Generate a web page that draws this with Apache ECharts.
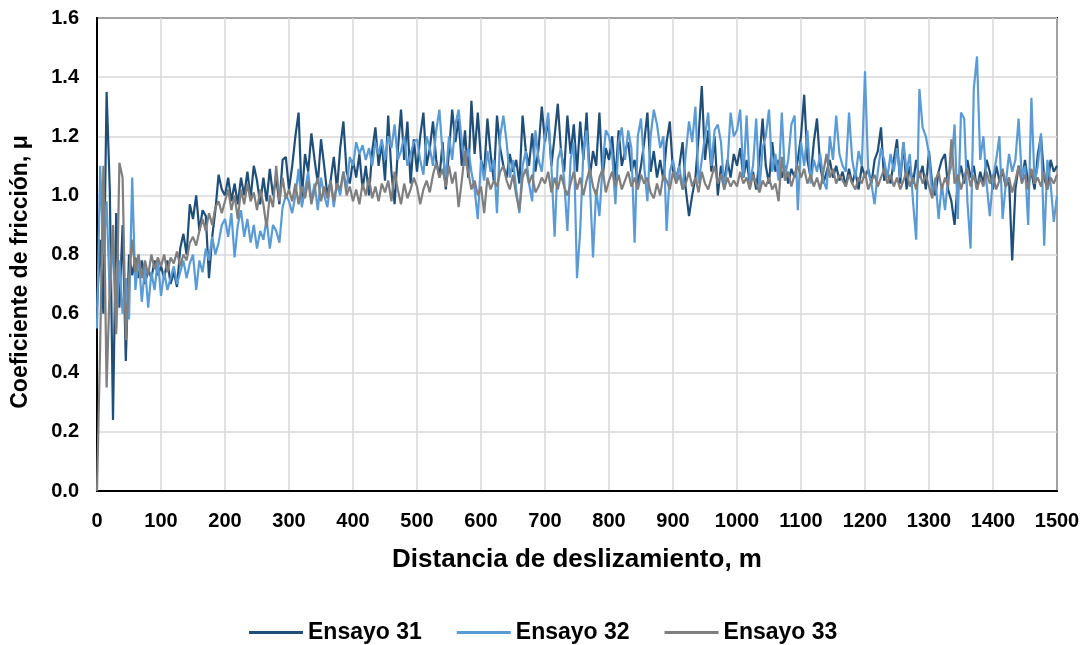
<!DOCTYPE html>
<html>
<head>
<meta charset="utf-8">
<script src="https://cdn.jsdelivr.net/npm/echarts@6/dist/echarts.min.js"></script>
<style>
  html, body { margin: 0; padding: 0; background: #fff; }
  #chart { width: 1089px; height: 645px; }
</style>
</head>
<body>
<div id="chart"></div>
<script>
// Sliding distance sampled every 5 m (0 .. 1500 m)
const stepM = 5;

const xTicks = [0, 100, 200, 300, 400, 500, 600, 700, 800, 900, 1000, 1100, 1200, 1300, 1400, 1500];
const yTicks = [0.0, 0.2, 0.4, 0.6, 0.8, 1.0, 1.2, 1.4, 1.6];

const seriesNames = ['Ensayo 31', 'Ensayo 32', 'Ensayo 33'];

// Coeficiente de fricción, Ensayo 31
const e31 = [
  0.62, 0.85, 0.60, 1.35, 1.02, 0.24, 0.94, 0.62, 0.90, 0.44, 0.80, 0.73, 0.79, 0.72, 0.78, 0.70, 0.75, 0.72, 0.78, 0.73,
  0.76, 0.72, 0.78, 0.70, 0.74, 0.69, 0.82, 0.87, 0.80, 0.97, 0.92, 1.00, 0.88, 0.95, 0.93, 0.72, 0.86, 0.95, 1.07, 1.02,
  1.00, 1.06, 0.98, 1.04, 0.97, 1.06, 1.00, 1.08, 0.99, 1.10, 1.05, 0.97, 1.06, 0.98, 1.09, 1.00, 1.06, 0.97, 1.12, 1.13,
  1.02, 1.10, 1.20, 1.28, 0.99, 1.14, 1.08, 1.21, 1.12, 1.04, 1.19, 1.10, 1.00, 1.05, 1.13, 1.02, 1.16, 1.25, 1.08, 1.04,
  1.12, 1.06, 1.14, 1.02, 1.10, 1.00, 1.15, 1.23, 1.10, 1.18, 1.05, 1.27, 1.08, 0.97, 1.15, 1.29, 1.12, 1.25, 1.04, 1.19,
  1.08, 1.20, 1.28, 1.10, 1.16, 1.25, 1.12, 1.06, 1.18, 1.02, 1.15, 1.29, 1.18, 1.26, 1.10, 1.22, 1.06, 1.32, 1.14, 1.28,
  1.12, 1.08, 1.26, 1.14, 1.05, 1.27, 1.16, 1.10, 1.06, 1.14, 1.08, 1.12, 1.04, 1.27, 1.15, 1.10, 1.21, 1.08, 1.16, 1.30,
  1.18, 1.26, 1.10, 1.20, 1.31, 1.15, 1.08, 1.27, 1.14, 1.24, 1.08, 1.25, 1.12, 1.28, 1.06, 1.15, 1.10, 1.28, 1.06, 1.16,
  1.12, 1.20, 1.05, 1.22, 1.10, 1.15, 1.18, 1.08, 1.12, 1.04, 1.10, 1.18, 1.28, 1.08, 1.15, 1.06, 1.12, 1.05, 1.18, 1.25,
  1.08, 1.06, 1.10, 1.18, 1.02, 0.93, 1.00, 1.06, 1.20, 1.37, 1.12, 1.22, 1.08, 1.20, 1.00, 1.10, 1.05, 1.12, 1.06, 1.14,
  1.10, 1.16, 1.06, 1.12, 1.04, 1.08, 1.02, 1.12, 1.26, 1.10, 1.04, 1.18, 1.08, 1.12, 1.06, 1.10, 1.04, 1.09, 1.06, 1.12,
  1.20, 1.34, 1.12, 1.06, 1.18, 1.26, 1.10, 1.04, 1.08, 1.12, 1.06, 1.10, 1.05, 1.08, 1.03, 1.09, 1.04, 1.08, 1.02, 1.10,
  1.06, 1.09, 1.04, 1.12, 1.15, 1.23, 1.05, 1.08, 1.04, 1.12, 1.19, 1.04, 1.18, 1.02, 1.10, 1.04, 1.12, 1.06, 1.10, 1.02,
  1.15, 1.04, 1.00, 1.08, 1.12, 1.14, 1.02, 0.98, 0.90, 1.05, 1.10, 1.04, 1.12, 1.06, 1.10, 1.02, 1.08, 1.04, 1.12, 1.08,
  1.02, 1.10, 1.05, 1.08, 1.03, 1.06, 0.78, 1.02, 1.10, 1.05, 1.12, 1.04, 1.08, 1.02, 1.14, 1.20, 1.06, 1.02, 1.12, 1.08, 1.10
];

// Coeficiente de fricción, Ensayo 32
const e32 = [
  0.55, 1.10, 0.80, 0.98, 0.66, 0.85, 0.55, 0.78, 0.60, 0.72, 0.58, 1.06, 0.68, 0.80, 0.64, 0.76, 0.62, 0.74, 0.68, 0.78,
  0.66, 0.74, 0.68, 0.72, 0.76, 0.70, 0.74, 0.78, 0.72, 0.77, 0.80, 0.68, 0.78, 0.74, 0.82, 0.78, 0.86, 0.80, 0.84, 0.90,
  0.92, 0.86, 0.94, 0.79, 0.90, 0.95, 0.86, 0.92, 0.84, 0.90, 0.82, 0.88, 0.85, 0.92, 0.82, 0.90, 0.88, 0.84, 0.96, 1.00,
  0.98, 0.94, 1.00, 1.09, 0.96, 1.02, 1.08, 0.98, 1.04, 0.95, 1.06, 1.00, 0.96, 1.05, 0.96, 1.04, 1.00, 1.08, 1.02, 1.13,
  1.10, 1.18, 1.14, 1.17, 1.12, 1.16, 1.10, 1.18, 1.14, 1.19, 1.12, 1.20, 1.16, 1.24, 1.12, 1.15, 1.20, 1.10, 1.14, 1.18,
  1.19, 1.12, 1.07, 1.20, 1.16, 1.10, 1.22, 1.29, 1.14, 1.06, 1.20, 1.12, 1.24, 1.29, 1.18, 1.10, 1.16, 1.08, 1.02, 0.92,
  1.12, 1.05, 1.15, 1.08, 1.12, 0.94, 1.20, 1.27, 1.18, 1.06, 1.12, 1.02, 0.94, 1.10, 1.15, 1.04, 0.98, 1.22, 1.12, 1.08,
  1.20, 1.28, 1.10, 0.86, 1.12, 1.16, 1.05, 0.88, 1.12, 1.18, 0.72, 0.88, 1.15, 1.22, 1.05, 0.79, 1.02, 0.93, 1.10, 1.22,
  1.20, 1.14, 0.97, 1.18, 1.23, 1.12, 1.22, 1.16, 0.84, 1.20, 1.26, 1.10, 0.98, 1.20, 1.29, 1.24, 1.16, 1.20, 0.88, 1.08,
  1.12, 1.05, 1.10, 1.02, 1.14, 1.25, 1.18, 1.30, 1.04, 1.12, 1.20, 1.28, 1.10, 1.22, 1.24, 1.18, 1.02, 1.10, 1.28, 1.20,
  1.22, 1.29, 1.06, 1.27, 1.04, 1.10, 1.26, 1.02, 1.16, 1.20, 1.29, 1.08, 1.14, 1.05, 1.28, 1.06, 1.12, 1.24, 1.27, 0.95,
  1.18, 1.10, 1.22, 1.04, 1.12, 1.08, 1.14, 1.05, 1.02, 1.20, 1.12, 1.27, 1.14, 1.10, 1.08, 1.28, 1.12, 1.06, 1.15, 1.10,
  1.42, 1.08, 1.04, 0.97, 1.08, 1.16, 1.12, 1.06, 1.14, 1.08, 1.16, 1.06, 1.18, 1.08, 1.14, 0.98, 0.85, 1.36, 1.23, 1.20,
  1.14, 1.00, 1.06, 0.92, 1.04, 0.95, 1.06, 1.10, 1.24, 0.92, 1.28, 1.26, 0.98, 0.82, 1.36, 1.47, 1.12, 1.20, 1.04, 0.93,
  1.06, 1.12, 1.20, 0.92, 1.04, 1.14, 1.08, 1.12, 1.26, 1.06, 1.10, 0.90, 1.33, 1.04, 1.10, 1.21, 0.83, 1.12, 1.04, 0.91, 1.00
];

// Coeficiente de fricción, Ensayo 33
const e33 = [
  0.00, 0.50, 1.10, 0.35, 0.70, 0.90, 0.53, 1.11, 1.06, 0.51, 0.72, 0.85, 0.74, 0.80, 0.72, 0.78, 0.73, 0.80, 0.75, 0.79,
  0.76, 0.80, 0.74, 0.79, 0.77, 0.81, 0.76, 0.80, 0.78, 0.84, 0.86, 0.83, 0.88, 0.92, 0.88, 0.94, 0.90, 0.96, 0.98, 0.94,
  0.98, 1.02, 0.95, 1.00, 0.92, 1.02, 0.97, 1.04, 0.98, 1.01, 0.95, 1.02, 0.97, 0.89, 1.00, 0.96, 1.10, 0.98, 1.06, 0.99,
  1.02, 0.98, 1.04, 0.97, 1.03, 0.99, 1.05, 0.97, 1.02, 1.06, 0.98, 1.03, 0.99, 1.05, 0.98, 1.04, 1.02, 1.08, 1.00, 1.03,
  0.98, 1.02, 0.97, 1.04, 1.00, 1.06, 0.99, 1.03, 0.98, 1.04, 1.01, 1.05, 0.98, 1.08, 1.02, 0.97, 1.04, 0.99, 1.02, 1.06,
  1.03, 0.97, 1.02, 1.05, 1.01, 1.07, 1.11, 1.06, 1.09, 1.03, 1.10, 1.04, 1.08, 0.96, 1.05, 1.15, 1.08, 1.02, 1.05, 1.00,
  1.03, 0.94, 1.06, 1.02, 1.05, 1.03, 1.08, 1.10, 1.05, 1.02, 1.07, 1.00, 0.95, 1.06, 1.09, 1.04, 1.07, 1.01, 1.03, 1.06,
  1.04, 1.08, 1.01, 1.06, 1.02, 1.07, 1.03, 1.00, 1.04, 1.08, 1.02, 1.06, 1.00, 1.05, 1.09, 1.03, 1.00, 1.06, 1.09, 1.01,
  1.05, 1.08, 1.03, 1.07, 1.02, 1.05, 1.08, 1.03, 1.06, 1.02, 1.07, 1.04, 1.06, 1.01, 0.99, 1.04, 1.00, 1.07, 1.05, 1.02,
  1.08, 1.04, 1.07, 1.02, 1.04, 1.08, 1.03, 1.06, 1.01, 1.08, 1.04, 1.02, 1.06, 1.10, 1.04, 1.07, 1.02, 1.06, 1.03, 1.05,
  1.03, 1.08, 1.04, 1.06, 1.02, 1.07, 1.04, 1.01, 1.05, 1.03, 1.06, 1.02, 1.04, 0.98, 1.13, 1.05, 1.08, 1.03, 1.07, 1.10,
  1.06, 1.09, 1.04, 1.07, 1.03, 1.06, 1.02, 1.08, 1.14, 1.06, 1.09, 1.04, 1.07, 1.05, 1.03, 1.07, 1.04, 1.02, 1.06, 1.04,
  1.08, 1.02, 1.05, 1.07, 1.03, 1.06, 1.09, 1.04, 1.07, 1.03, 1.06, 1.02, 1.05, 1.08, 1.03, 1.06, 1.02, 1.08, 1.04, 1.07,
  1.03, 0.99, 1.05, 1.08, 1.02, 1.06, 1.03, 1.19, 1.04, 1.07, 1.02, 1.06, 1.09, 1.03, 1.07, 1.02, 1.06, 1.03, 1.08, 1.04,
  1.07, 1.02, 1.05, 1.09, 1.03, 1.06, 1.01, 1.05, 1.10, 1.04, 1.07, 1.02, 1.09, 1.04, 1.06, 1.03, 1.08, 1.02, 1.06, 1.04, 1.07
];

const colors = ['#1f4e79', '#5b9bd5', '#7f7f7f'];

function toPairs(values) {
  return values.map((v, i) => [i * stepM, v]);
}

const FONT = 'Liberation Sans, Arial, sans-serif';
const chart = echarts.init(document.getElementById('chart'), null, { renderer: 'canvas' });

const grid = { left: 97, right: 32, top: 18, bottom: 154 };

chart.setOption({
  animation: false,
  backgroundColor: '#ffffff',
  color: colors,
  grid: Object.assign({ show: true, borderColor: '#000', borderWidth: 2, backgroundColor: 'transparent' }, grid),
  xAxis: {
    type: 'value',
    min: xTicks[0],
    max: xTicks[xTicks.length - 1],
    interval: xTicks[1] - xTicks[0],
    axisLine: { show: true, lineStyle: { color: '#000', width: 2 } },
    axisTick: { show: false },
    splitLine: { show: true, lineStyle: { color: '#d9d9d9', width: 1.5 } },
    axisLabel: {
      color: '#000', fontFamily: FONT, fontWeight: 'bold', fontSize: 20, margin: 20,
      formatter: v => String(v)
    }
  },
  yAxis: {
    type: 'value',
    min: yTicks[0],
    max: yTicks[yTicks.length - 1],
    interval: 0.2,
    axisLine: { show: true, lineStyle: { color: '#000', width: 2 } },
    axisTick: { show: false },
    splitLine: { show: true, lineStyle: { color: '#d9d9d9', width: 1.5 } },
    axisLabel: {
      color: '#000', fontFamily: FONT, fontWeight: 'bold', fontSize: 20, margin: 18,
      formatter: v => v.toFixed(1)
    }
  },
  legend: {
    data: seriesNames,
    left: 244,
    top: 616,
    icon: 'rect',
    itemWidth: 54,
    itemHeight: 3,
    itemGap: 35,
    textStyle: { color: '#000', fontFamily: FONT, fontWeight: 'bold', fontSize: 23, padding: [0, 0, 0, 0] }
  },
  graphic: [
    {
      type: 'text',
      x: 577,
      y: 547,
      style: {
        text: 'Distancia de deslizamiento, m', fill: '#000', font: 'bold 26px ' + FONT,
        align: 'center', verticalAlign: 'top'
      }
    },
    {
      type: 'text',
      x: 9,
      y: 272,
      rotation: Math.PI / 2,
      style: {
        text: 'Coeficiente de fricción, μ', fill: '#000', font: 'bold 23px ' + FONT,
        align: 'center', verticalAlign: 'top'
      }
    }
  ],
  series: [
    { name: seriesNames[0], type: 'line', data: toPairs(e31), showSymbol: false, lineStyle: { width: 2.2, color: colors[0] }, z: 2 },
    { name: seriesNames[1], type: 'line', data: toPairs(e32), showSymbol: false, lineStyle: { width: 2.2, color: colors[1] }, z: 3 },
    { name: seriesNames[2], type: 'line', data: toPairs(e33), showSymbol: false, lineStyle: { width: 2.2, color: colors[2] }, z: 4 }
  ]
});
</script>
</body>
</html>
